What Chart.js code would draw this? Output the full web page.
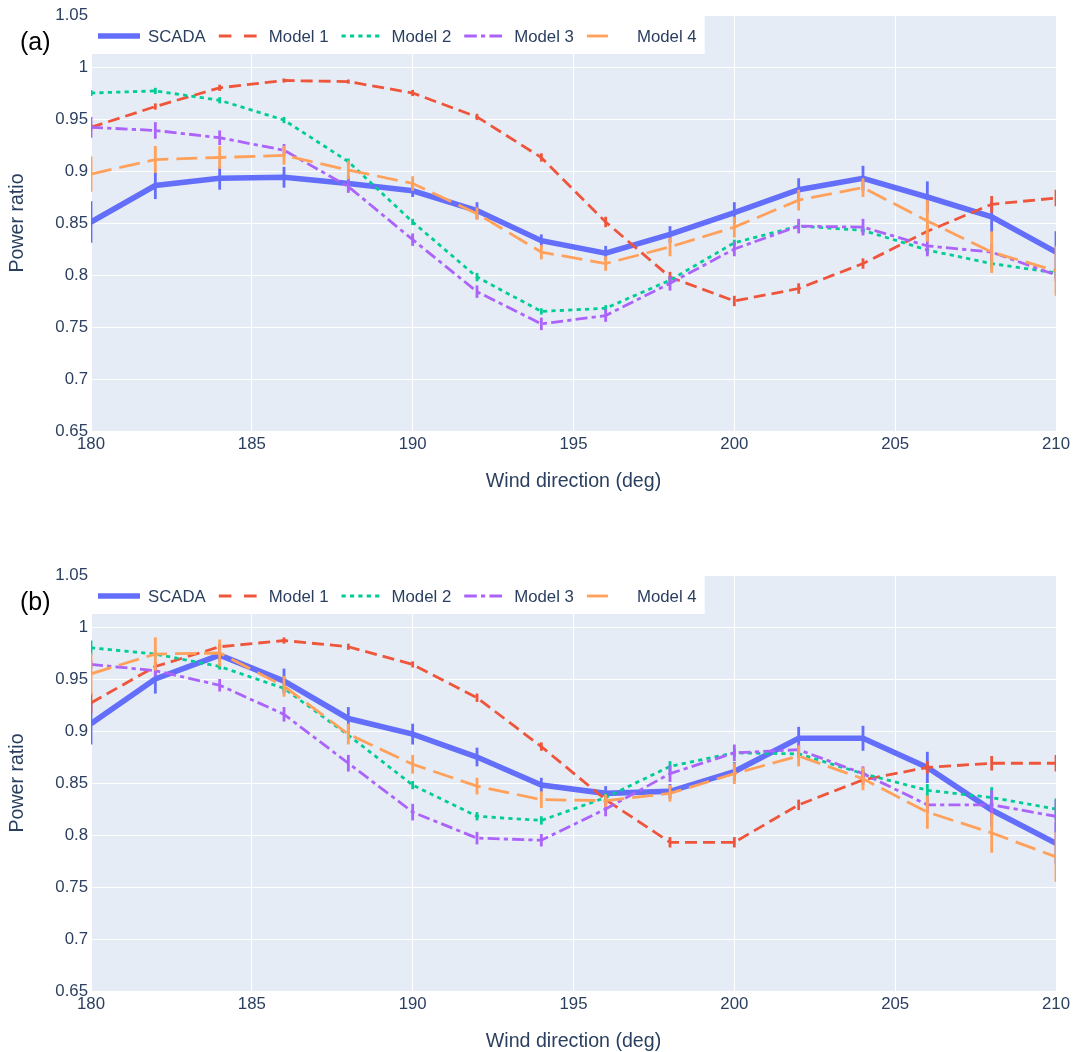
<!DOCTYPE html>
<html>
<head>
<meta charset="utf-8">
<title>Power ratio vs wind direction</title>
<script src="https://cdn.jsdelivr.net/npm/chart.js@4.4.1/dist/chart.umd.min.js"></script>
<style>
  html, body { margin: 0; padding: 0; background: #fff; overflow: hidden; }
  #wrap { position: relative; width: 1075px; height: 1052px; }
  canvas { position: absolute; left: 0; }
</style>
</head>
<body>
<div id="wrap">
  <canvas id="chartA" width="1075" height="526" style="top:0"></canvas>
  <canvas id="chartB" width="1075" height="526" style="top:560px"></canvas>
</div>
<script>
// x values (deg) and axis ticks
var directions = [180, 182, 184, 186, 188, 190, 192, 194, 196, 198, 200, 202, 204, 206, 208, 210];
var xTicks = [180, 185, 190, 195, 200, 205, 210];
var yTicks = [0.65, 0.7, 0.75, 0.8, 0.85, 0.9, 0.95, 1, 1.05];
var seriesNames = ['SCADA', 'Model 1', 'Model 2', 'Model 3', 'Model 4'];

// panel (a)
var scadaA = [0.851, 0.886, 0.893, 0.894, 0.888, 0.881, 0.862, 0.833, 0.821, 0.839, 0.860, 0.882, 0.893, 0.875, 0.856, 0.822];
var scadaErrA = [0.02, 0.013, 0.011, 0.01, 0.007, 0.006, 0.008, 0.006, 0.007, 0.008, 0.01, 0.011, 0.012, 0.015, 0.015, 0.02];
var model1A = [0.942, 0.962, 0.980, 0.987, 0.986, 0.975, 0.952, 0.913, 0.851, 0.798, 0.775, 0.787, 0.811, 0.842, 0.868, 0.874];
var model1ErrA = [0.003, 0.003, 0.003, 0.002, 0.002, 0.003, 0.003, 0.004, 0.005, 0.005, 0.005, 0.005, 0.005, 0.006, 0.008, 0.008];
var model2A = [0.975, 0.977, 0.968, 0.949, 0.909, 0.851, 0.798, 0.765, 0.768, 0.795, 0.831, 0.847, 0.843, 0.824, 0.811, 0.802];
var model2ErrA = [0.003, 0.003, 0.003, 0.003, 0.003, 0.003, 0.004, 0.003, 0.003, 0.003, 0.003, 0.003, 0.003, 0.004, 0.005, 0.005];
var model3A = [0.942, 0.939, 0.932, 0.920, 0.885, 0.834, 0.784, 0.753, 0.761, 0.792, 0.825, 0.847, 0.846, 0.828, 0.822, 0.800];
var model3ErrA = [0.01, 0.008, 0.007, 0.006, 0.006, 0.006, 0.006, 0.006, 0.006, 0.007, 0.007, 0.007, 0.008, 0.01, 0.008, 0.006];
var model4A = [0.897, 0.911, 0.913, 0.915, 0.901, 0.888, 0.859, 0.822, 0.811, 0.827, 0.846, 0.872, 0.884, 0.852, 0.822, 0.804];
var model4ErrA = [0.017, 0.013, 0.011, 0.009, 0.009, 0.007, 0.006, 0.007, 0.007, 0.009, 0.01, 0.01, 0.009, 0.02, 0.02, 0.024];

// panel (b)
var scadaB = [0.907, 0.950, 0.973, 0.948, 0.912, 0.897, 0.875, 0.848, 0.840, 0.842, 0.861, 0.893, 0.893, 0.865, 0.824, 0.792];
var scadaErrB = [0.02, 0.014, 0.006, 0.012, 0.011, 0.01, 0.009, 0.007, 0.007, 0.007, 0.009, 0.011, 0.012, 0.015, 0.016, 0.02];
var model1B = [0.927, 0.962, 0.981, 0.987, 0.981, 0.964, 0.932, 0.885, 0.834, 0.793, 0.793, 0.829, 0.853, 0.865, 0.869, 0.869];
var model1ErrB = [0.01, 0.004, 0.003, 0.003, 0.003, 0.003, 0.004, 0.004, 0.005, 0.005, 0.005, 0.005, 0.005, 0.006, 0.007, 0.008];
var model2B = [0.980, 0.974, 0.962, 0.941, 0.896, 0.848, 0.818, 0.814, 0.836, 0.866, 0.879, 0.878, 0.859, 0.843, 0.836, 0.825];
var model2ErrB = [0.007, 0.003, 0.003, 0.003, 0.004, 0.004, 0.004, 0.004, 0.004, 0.005, 0.004, 0.004, 0.004, 0.006, 0.01, 0.01];
var model3B = [0.964, 0.958, 0.944, 0.916, 0.869, 0.822, 0.797, 0.795, 0.825, 0.859, 0.879, 0.882, 0.859, 0.829, 0.829, 0.818];
var model3ErrB = [0.004, 0.005, 0.006, 0.007, 0.008, 0.008, 0.006, 0.006, 0.007, 0.008, 0.008, 0.006, 0.007, 0.008, 0.014, 0.016];
var model4B = [0.955, 0.974, 0.975, 0.943, 0.897, 0.868, 0.847, 0.834, 0.833, 0.840, 0.859, 0.876, 0.854, 0.822, 0.802, 0.779];
var model4ErrB = [0.02, 0.016, 0.013, 0.01, 0.01, 0.009, 0.008, 0.008, 0.006, 0.008, 0.01, 0.01, 0.011, 0.016, 0.019, 0.024];

// styles (plotly-like defaults at 1.4x)
var colors = ['#636EFA', '#EF553B', '#00CC96', '#AB63FA', '#FFA15A'];
var widths = [5.6, 2.8, 2.8, 2.8, 2.8];
var plotDash = [[], [12, 6], [4.2, 4.2], [12, 4.2, 4.2, 4.2], [21, 8]];
var legendDash = [[], [12.6, 12.6], [4.2, 4.2], [12.6, 4.2, 4.2, 4.2], [21, 21]];
var FONT = '"Liberation Sans", Arial, sans-serif';
var TEXT = '#2a3f5f';

// fill the plot area like plotly's bg
var plotBackground = {
  id: 'plotBackground',
  beforeDraw: function (chart) {
    var a = chart.chartArea, ctx = chart.ctx;
    ctx.save();
    ctx.fillStyle = '#E5ECF6';
    ctx.fillRect(a.left, a.top, a.right - a.left, a.bottom - a.top);
    ctx.restore();
  }
};

// vertical error bars, drawn right after each line
var errorBars = {
  id: 'errorBars',
  afterDatasetDraw: function (chart, args) {
    var ds = chart.data.datasets[args.index];
    if (!ds.errors) return;
    var xs = chart.scales.x, ys = chart.scales.y, a = chart.chartArea, ctx = chart.ctx;
    ctx.save();
    ctx.beginPath();
    ctx.rect(a.left, a.top, a.right - a.left, a.bottom - a.top);
    ctx.clip();
    ctx.strokeStyle = ds.borderColor;
    ctx.lineWidth = 2.8;
    ctx.setLineDash([]);
    ds.data.forEach(function (p, i) {
      var px = xs.getPixelForValue(p.x);
      ctx.beginPath();
      ctx.moveTo(px, ys.getPixelForValue(p.y - ds.errors[i]));
      ctx.lineTo(px, ys.getPixelForValue(p.y + ds.errors[i]));
      ctx.stroke();
    });
    ctx.restore();
  }
};

// horizontal legend in a white box + panel letter
var legendAndLabel = {
  id: 'legendAndLabel',
  afterDraw: function (chart, args, opts) {
    var ctx = chart.ctx, a = chart.chartArea;
    ctx.save();
    ctx.font = '16.8px ' + FONT;
    var x = a.left + 7;
    var items = [];
    chart.data.datasets.forEach(function (ds) {
      items.push({ ds: ds, x: x });
      x += 50 + ctx.measureText(ds.label).width + 13;
    });
    var boxRight = x - 13 + 8;
    ctx.fillStyle = '#fff';
    ctx.fillRect(a.left, a.top, boxRight - a.left, 39);
    items.forEach(function (it) {
      ctx.strokeStyle = it.ds.borderColor;
      ctx.lineWidth = it.ds.borderWidth;
      ctx.setLineDash(it.ds.legendDash);
      ctx.beginPath();
      ctx.moveTo(it.x, a.top + 21);
      ctx.lineTo(it.x + 42, a.top + 21);
      ctx.stroke();
      ctx.setLineDash([]);
      ctx.fillStyle = TEXT;
      ctx.textBaseline = 'middle';
      ctx.fillText(it.ds.label, it.x + 50, a.top + 22);
    });
    ctx.fillStyle = '#000';
    ctx.font = '25px ' + FONT;
    ctx.textBaseline = 'alphabetic';
    ctx.fillText(opts.text, 20, 50);
    ctx.restore();
  }
};

function makeChart(id, label, values, errors) {
  var datasets = seriesNames.map(function (name, k) {
    return {
      label: name,
      data: directions.map(function (d, i) { return { x: d, y: values[k][i] }; }),
      errors: errors[k],
      borderColor: colors[k],
      backgroundColor: colors[k],
      borderWidth: widths[k],
      borderDash: plotDash[k],
      legendDash: legendDash[k],
      pointRadius: 0,
      tension: 0,
      clip: 0,
      order: 5 - k
    };
  });

  return new Chart(document.getElementById(id), {
    type: 'line',
    data: { datasets: datasets },
    plugins: [plotBackground, errorBars, legendAndLabel],
    options: {
      responsive: false,
      animation: false,
      devicePixelRatio: 1,
      layout: { padding: { left: 0, right: 19, top: 15, bottom: 0 } },
      plugins: {
        legend: { display: false },
        tooltip: { enabled: false },
        legendAndLabel: { text: label }
      },
      scales: {
        x: {
          type: 'linear',
          min: 180,
          max: 210,
          afterBuildTicks: function (s) { s.ticks = xTicks.map(function (v) { return { value: v }; }); },
          afterFit: function (s) { s.height = 95; },
          grid: { color: '#ffffff', lineWidth: 1, drawTicks: false },
          border: { display: false },
          ticks: { color: TEXT, font: { family: FONT, size: 16.8 }, padding: 3, maxRotation: 0, autoSkip: false },
          title: { display: true, text: 'Wind direction (deg)', color: TEXT, font: { family: FONT, size: 19.6 }, padding: { top: 0, bottom: 33 } }
        },
        y: {
          type: 'linear',
          min: 0.65,
          max: 1.05,
          afterBuildTicks: function (s) { s.ticks = yTicks.map(function (v) { return { value: v }; }); },
          afterFit: function (s) { s.width = 91; },
          grid: { color: '#ffffff', lineWidth: 1, drawTicks: false },
          border: { display: false },
          ticks: {
            color: TEXT, font: { family: FONT, size: 16.8 }, padding: 3, autoSkip: false,
            callback: function (v) { return String(+Number(v).toFixed(2)); }
          },
          title: { display: true, text: 'Power ratio', color: TEXT, font: { family: FONT, size: 19.6 }, padding: { top: 6, bottom: 0 } }
        }
      }
    }
  });
}

makeChart('chartA', '(a)',
  [scadaA, model1A, model2A, model3A, model4A],
  [scadaErrA, model1ErrA, model2ErrA, model3ErrA, model4ErrA]);
makeChart('chartB', '(b)',
  [scadaB, model1B, model2B, model3B, model4B],
  [scadaErrB, model1ErrB, model2ErrB, model3ErrB, model4ErrB]);
</script>
</body>
</html>
